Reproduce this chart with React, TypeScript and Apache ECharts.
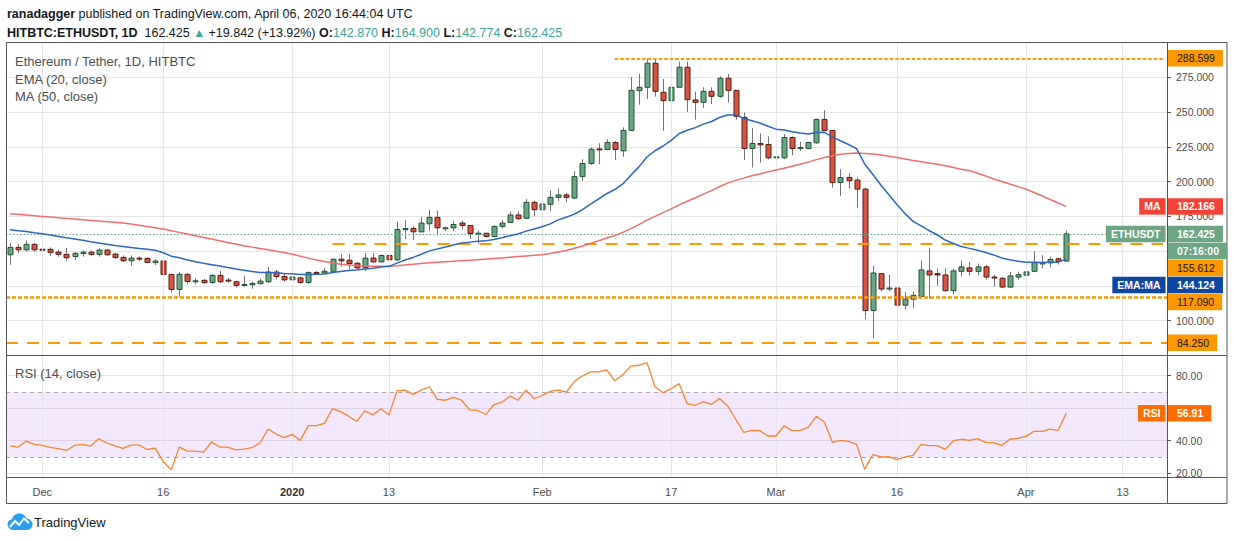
import React, { useEffect, useRef } from "react";
import * as echarts from "echarts";

// ---------------- data ----------------
const FIRST_DAY_UTC = Date.UTC(2019, 10, 27);
const SLOT_COUNT = 144; // Nov 27 2019 .. Apr 19 2020 (empty space after last candle)

const opens = [
  147.4, 152.7, 151.0, 154.9, 151.4, 151.3, 149.3, 147.7, 146.2, 148.4,
  149.3, 147.7, 150.8, 147.9, 145.5, 143.1, 145.0, 144.8, 141.9, 142.9,
  133.3, 122.5, 133.3, 128.2, 129.0, 127.5, 132.6, 129.2, 128.0, 125.4,
  125.8, 126.6, 128.0, 135.0, 131.8, 129.4, 130.8, 127.5, 134.6, 134.3,
  135.1, 144.2, 143.5, 141.3, 138.2, 145.0, 142.3, 146.9, 143.8, 165.4,
  166.3, 163.9, 169.7, 174.3, 166.6, 166.8, 170.2, 168.5, 162.7, 162.9,
  160.6, 167.8, 170.7, 176.0, 173.6, 185.1, 179.8, 183.7, 188.7, 190.4,
  188.2, 203.6, 213.0, 223.5, 223.1, 228.1, 222.1, 236.8, 265.4, 267.8,
  285.1, 264.2, 258.2, 267.8, 282.2, 258.7, 257.0, 264.9, 261.3, 274.3,
  265.6, 246.2, 223.8, 227.4, 226.7, 217.1, 217.1, 231.7, 223.8, 223.8,
  227.9, 244.7, 236.8, 199.3, 203.0, 201.1, 194.6, 107.3, 133.9, 122.8,
  123.5, 111.2, 115.5, 117.5, 135.8, 133.9, 132.9, 121.6, 135.5, 138.0,
  135.5, 138.7, 131.4, 130.5, 124.2, 131.4, 132.7, 135.5, 140.8, 141.6,
  144.5, 142.87,
];
const highs = [
  155.8, 155.1, 157.7, 155.8, 152.7, 152.7, 150.8, 152.2, 149.6, 150.5,
  150.5, 152.0, 151.5, 148.8, 147.0, 147.0, 146.2, 145.7, 144.1, 142.9,
  133.3, 135.0, 134.2, 130.6, 130.0, 133.5, 135.9, 130.8, 128.7, 132.3,
  128.0, 130.2, 138.6, 136.6, 134.2, 132.6, 131.5, 135.5, 135.7, 138.2,
  144.7, 147.8, 147.8, 142.3, 148.6, 148.6, 147.6, 147.6, 171.2, 172.4,
  168.0, 174.8, 179.6, 179.1, 167.5, 171.6, 171.9, 168.5, 164.7, 163.0,
  168.8, 172.4, 178.4, 178.6, 187.5, 186.1, 184.6, 193.5, 195.2, 191.8,
  207.5, 216.1, 224.5, 227.6, 230.5, 229.3, 239.0, 275.2, 277.4, 288.6,
  287.5, 273.8, 268.5, 286.3, 286.3, 264.7, 267.8, 267.8, 275.7, 277.4,
  265.6, 249.8, 238.5, 234.6, 232.5, 227.4, 234.1, 232.5, 228.6, 228.6,
  245.4, 251.4, 237.0, 208.9, 206.1, 203.0, 195.8, 139.6, 134.3, 133.1,
  124.2, 120.6, 121.1, 143.3, 152.4, 137.5, 137.7, 137.5, 143.3, 142.3,
  141.1, 140.1, 133.1, 131.2, 135.1, 135.3, 138.4, 150.0, 147.1, 146.1,
  145.4, 164.9,
];
const lows = [
  140.2, 148.6, 149.8, 149.6, 146.0, 146.7, 146.0, 143.1, 143.8, 146.0,
  146.7, 146.0, 146.7, 144.3, 142.1, 139.5, 142.9, 141.2, 140.0, 130.4,
  120.1, 117.09, 126.1, 126.1, 126.6, 126.6, 127.0, 127.3, 123.9, 124.4,
  123.0, 126.1, 127.3, 129.9, 128.0, 129.2, 126.5, 126.3, 133.5, 134.0,
  134.6, 138.9, 137.0, 136.8, 135.8, 141.8, 141.8, 143.0, 143.0, 158.7,
  157.9, 163.5, 164.7, 162.3, 164.4, 164.4, 165.9, 158.7, 155.5, 159.9,
  159.9, 166.3, 170.2, 172.8, 173.1, 175.0, 178.8, 178.8, 186.1, 185.1,
  187.5, 200.5, 212.0, 212.5, 222.6, 215.6, 217.8, 236.8, 255.3, 259.4,
  261.1, 236.5, 241.3, 267.8, 250.2, 244.5, 252.9, 255.8, 260.3, 257.0,
  244.5, 215.6, 210.1, 213.7, 216.1, 212.0, 216.1, 219.0, 222.0, 223.3,
  227.2, 236.3, 195.7, 189.7, 195.1, 181.3, 101.1, 87.3, 121.1, 121.1,
  100.6, 108.3, 109.0, 115.5, 115.8, 125.2, 120.8, 118.7, 131.9, 132.7,
  132.7, 129.5, 124.7, 123.3, 123.5, 129.5, 128.3, 134.8, 137.5, 138.4,
  140.4, 142.774,
];
const closes = [
  152.7, 151.0, 154.9, 151.0, 150.9, 149.1, 147.7, 145.3, 148.4, 149.3,
  147.7, 150.8, 147.4, 145.5, 143.1, 145.0, 144.3, 141.9, 142.9, 133.3,
  122.5, 133.3, 128.2, 128.7, 127.3, 132.6, 128.0, 128.5, 125.4, 126.1,
  126.8, 128.5, 135.0, 131.8, 129.4, 131.4, 127.5, 134.6, 134.2, 135.6,
  144.2, 143.0, 141.1, 138.0, 145.0, 142.3, 146.9, 143.8, 165.6, 166.3,
  163.9, 170.2, 174.3, 166.8, 166.8, 169.2, 168.5, 162.7, 162.9, 160.6,
  167.8, 170.2, 176.0, 173.3, 185.1, 179.8, 183.9, 188.7, 190.4, 188.7,
  203.6, 213.0, 223.3, 222.8, 228.1, 223.1, 236.8, 265.6, 267.8, 285.1,
  264.9, 258.2, 267.8, 282.2, 258.9, 257.0, 264.9, 261.3, 274.3, 265.6,
  246.9, 223.8, 227.4, 226.4, 217.1, 217.8, 231.7, 223.8, 224.5, 228.1,
  244.7, 236.8, 199.3, 202.9, 200.6, 194.6, 107.3, 134.3, 122.8, 123.5,
  111.2, 115.5, 118.2, 136.5, 132.9, 132.9, 121.6, 135.8, 138.7, 135.5,
  138.7, 131.4, 130.7, 124.2, 132.2, 133.1, 135.1, 141.8, 141.8, 144.0,
  142.583, 162.425,
];
const ema20 = [
  165.4, 164.7, 164.2, 163.3, 162.5, 161.6, 160.6, 159.6, 158.7, 157.8,
  156.8, 155.9, 154.9, 154.1, 153.4, 152.6, 152.0, 151.4, 150.6, 148.9,
  146.4, 145.2, 143.6, 142.4, 141.3, 140.3, 139.3, 138.3, 137.2, 136.3,
  135.4, 134.7, 134.6, 134.4, 134.0, 133.7, 133.2, 133.3, 133.4, 133.6,
  134.6, 135.4, 136.1, 136.4, 137.2, 137.7, 138.6, 139.1, 141.4, 143.6,
  145.5, 147.8, 150.2, 151.6, 153.0, 154.5, 155.8, 156.5, 157.1, 157.4,
  158.4, 159.6, 161.1, 162.3, 164.4, 165.9, 167.6, 169.6, 172.5, 174.4,
  176.6, 179.9, 183.8, 187.5, 191.3, 194.3, 198.3, 204.6, 210.6, 217.7,
  222.2, 225.6, 229.6, 234.6, 236.9, 238.8, 241.3, 243.2, 246.1, 247.9,
  247.8, 245.5, 243.8, 242.1, 239.8, 237.7, 237.1, 235.9, 234.9, 234.3,
  235.3, 235.5, 232.0, 229.4, 226.7, 223.7, 212.7, 205.3, 197.6, 190.5,
  183.5, 177.0, 171.4, 168.2, 164.7, 161.8, 158.0, 155.5, 153.4, 152.0,
  150.6, 149.0, 147.3, 145.1, 143.8, 142.8, 142.1, 142.0, 141.9, 142.1,
  142.1, 144.124,
];
const ma50 = [
  176.9, 176.5, 176.0, 175.5, 175.0, 174.5, 174.0, 173.5, 173.1, 172.6,
  172.1, 171.6, 171.2, 170.7, 170.2, 169.5, 168.7, 167.8, 166.9, 165.9,
  164.7, 163.5, 162.3, 161.1, 159.9, 158.7, 157.5, 156.3, 155.1, 153.9,
  152.9, 151.9, 151.0, 150.0, 149.1, 147.8, 146.4, 145.0, 143.7, 142.5,
  141.5, 140.6, 140.0, 139.5, 139.3, 139.2, 139.1, 139.2, 139.6, 140.1,
  140.6, 141.1, 141.6, 142.0, 142.4, 142.8, 143.2, 143.5, 143.9, 144.3,
  144.7, 145.1, 145.6, 146.1, 146.6, 147.0, 147.5, 148.4, 149.4, 150.5,
  152.1, 153.7, 155.6, 157.5, 159.5, 161.3, 163.5, 166.2, 169.1, 172.3,
  175.0, 177.7, 180.4, 183.3, 185.9, 188.4, 191.0, 193.5, 196.3, 198.9,
  200.9, 202.5, 204.2, 205.5, 207.0, 208.3, 209.6, 211.0, 212.5, 214.0,
  215.8, 217.4, 218.6, 219.6, 220.2, 220.6, 220.2, 219.8, 219.2, 218.3,
  217.4, 216.3, 215.2, 214.3, 213.3, 212.4, 211.4, 210.1, 208.9, 207.8,
  206.0, 204.0, 201.9, 200.1, 198.3, 196.4, 194.6, 192.2, 189.8, 187.1,
  184.6, 182.166,
];
const rsi14 = [
  36.9, 36.1, 39.8, 37.7, 37.1, 35.9, 35.1, 34.0, 37.1, 37.7,
  36.7, 41.2, 38.6, 36.9, 35.3, 37.3, 37.3, 34.6, 35.5, 27.2,
  22.1, 36.1, 33.6, 33.6, 33.0, 39.2, 36.1, 36.1, 34.4, 34.8,
  35.7, 38.6, 47.2, 44.1, 41.9, 43.9, 40.2, 49.3, 49.3, 50.7,
  59.8, 57.9, 55.1, 51.8, 58.4, 55.9, 59.6, 55.9, 70.7, 71.1,
  68.5, 71.1, 73.2, 65.4, 64.9, 66.6, 64.9, 59.0, 58.6, 56.1,
  62.1, 63.7, 67.4, 64.9, 71.1, 65.8, 67.8, 70.3, 71.1, 69.9,
  76.5, 79.8, 82.3, 82.3, 83.5, 76.9, 80.6, 85.9, 86.4, 88.0,
  73.2, 69.5, 72.0, 75.1, 62.6, 61.8, 64.0, 62.4, 65.9, 61.4,
  53.2, 45.2, 46.4, 46.2, 42.9, 42.9, 49.1, 46.2, 46.4, 48.2,
  55.0, 51.5, 39.0, 40.2, 39.6, 37.8, 22.4, 31.4, 30.0, 30.2,
  28.4, 30.0, 31.0, 37.8, 37.0, 37.0, 34.7, 40.0, 40.9, 40.2,
  41.3, 39.0, 38.8, 37.0, 40.9, 41.5, 42.7, 45.8, 45.8, 47.2,
  46.4, 56.91,
];

const tickDates = [
  "2019-12-01", "2019-12-16", "2020-01-01", "2020-01-13", "2020-02-01",
  "2020-02-17", "2020-03-01", "2020-03-16", "2020-04-01", "2020-04-13",
];
const tickLabels = ["Dec", "16", "2020", "13", "Feb", "17", "Mar", "16", "Apr", "13"];

const levelTop = 288.599;
const levelTopStart = "2020-02-10";
const levelRes = 155.612;
const levelResStart = "2020-01-06";
const levelSup = 117.09;
const levelLow = 84.25;
const countdownText = "07:16:00";

// ---------------- style ----------------
const FONT = '"Liberation Sans", Arial, Helvetica, sans-serif';
const INK = "#131722";
const GRAY_TEXT = "#4e4e4e";
const FRAME = "#555555";
const GRID = "#e6e6e6";
const ORANGE = "#ff9800";
const UP = "#6ba583";
const DOWN = "#d75442";
const UP_BORDER = "#225437";
const DOWN_BORDER = "#5b1a13";
const WICK = "#737375";
const EMA_BLUE = "#2f66c3";
const MA_RED = "#f26d6d";
const TEAL = "#3ca597";
const RSI_ORANGE = "#f7852f";

const L = 6;
const AXIS_X = 1167;
const R = 1227;
const TOP = 42.5;
const MAIN_B = 355.5;
const RSI_B = 477;
const BOTTOM = 503.5;

const categories = Array.from({ length: SLOT_COUNT }, (_, i) =>
  new Date(FIRST_DAY_UTC + i * 86400000).toISOString().slice(0, 10)
);

const cloudPath =
  "M6.5 17 C3 17 0.5 14.6 0.5 11.6 C0.5 8.9 2.4 6.7 5 6.2 C5.8 2.8 8.8 0.5 12.3 0.5 C15.6 0.5 18.5 2.6 19.5 5.6 C22.8 5.8 25.5 8.4 25.5 11.6 C25.5 14.6 23 17 19.8 17 Z";
echarts.graphic.registerShape("tvCloud", echarts.graphic.extendPath(cloudPath, {}) as any);

function buildOption(): any {
  const tickIdx = tickDates.map((d) => categories.indexOf(d));
  const labelOf: Record<string, string> = {};
  tickDates.forEach((d, k) => (labelOf[d] = tickLabels[k]));
  const vLines = tickDates.map((d) => ({ xAxis: d }));
  const candleData = opens.map((o, i) => [i, o, closes[i], lows[i], highs[i]]);
  const lastCat = categories[SLOT_COUNT - 1];
  const lastClose = closes[closes.length - 1];

  const gridMarkLine = {
    silent: true,
    symbol: ["none", "none"],
    label: { show: false },
    emphasis: { disabled: true },
    lineStyle: { color: GRID, width: 1, type: "solid" },
    data: vLines,
  };

  return {
    animation: false,
    backgroundColor: "#ffffff",
    textStyle: { fontFamily: FONT },
    grid: [
      { left: L, top: TOP, width: AXIS_X - L, height: MAIN_B - TOP },
      { left: L, top: MAIN_B, width: AXIS_X - L, height: RSI_B - MAIN_B },
    ],
    xAxis: [
      {
        type: "category",
        gridIndex: 0,
        data: categories,
        boundaryGap: true,
        axisLine: { show: false },
        axisTick: { show: false },
        axisLabel: { show: false },
        splitLine: { show: false },
      },
      {
        type: "category",
        gridIndex: 1,
        data: categories,
        boundaryGap: true,
        axisLine: { show: false },
        axisTick: { show: false },
        splitLine: { show: false },
        axisLabel: {
          show: true,
          interval: (index: number) => tickIdx.includes(index),
          formatter: (v: string) => (labelOf[v] === "2020" ? "{y|2020}" : labelOf[v] ?? ""),
          margin: 9,
          color: GRAY_TEXT,
          fontSize: 11,
          fontFamily: FONT,
          rich: { y: { fontWeight: "bold", color: "#333333", fontSize: 11, fontFamily: FONT } },
        },
      },
    ],
    yAxis: [
      {
        type: "value",
        gridIndex: 0,
        position: "right",
        min: 75,
        max: 300,
        interval: 25,
        axisLine: { show: false },
        axisTick: { show: true, length: 4, lineStyle: { color: FRAME } },
        axisLabel: {
          margin: 9,
          color: GRAY_TEXT,
          fontSize: 10.5,
          fontFamily: FONT,
          showMinLabel: false,
          showMaxLabel: false,
          formatter: (v: number) => v.toFixed(3),
        },
        splitLine: { show: true, showMinLine: false, showMaxLine: false, lineStyle: { color: GRID, width: 1 } },
      },
      {
        type: "value",
        gridIndex: 1,
        position: "right",
        min: 17.7,
        max: 92.4,
        splitNumber: 4,
        axisLine: { show: false },
        axisTick: { show: true, length: 4, lineStyle: { color: FRAME } },
        axisLabel: {
          margin: 9,
          color: GRAY_TEXT,
          fontSize: 10.5,
          fontFamily: FONT,
          showMinLabel: false,
          showMaxLabel: false,
          formatter: (v: number) => v.toFixed(2),
        },
        splitLine: { show: true, showMinLine: false, showMaxLine: false, lineStyle: { color: GRID, width: 1 } },
      },
    ],
    series: [
      {
        type: "line",
        name: "gridMain",
        xAxisIndex: 0,
        yAxisIndex: 0,
        data: [],
        silent: true,
        z: 1,
        markLine: gridMarkLine,
      },
      {
        type: "line",
        name: "gridRsi",
        xAxisIndex: 1,
        yAxisIndex: 1,
        data: [],
        silent: true,
        z: 1,
        markArea: {
          silent: true,
          itemStyle: { color: "rgba(140, 30, 230, 0.1)" },
          data: [[{ yAxis: 30 }, { yAxis: 70 }]],
        },
        markLine: {
          ...gridMarkLine,
          data: [
            ...vLines,
            { yAxis: 70, lineStyle: { color: "#a9a9a9", width: 1, type: [4, 4] } },
            { yAxis: 30, lineStyle: { color: "#a9a9a9", width: 1, type: [4, 4] } },
          ],
        },
      },
      {
        type: "custom",
        name: "ETHUSDT",
        xAxisIndex: 0,
        yAxisIndex: 0,
        z: 4,
        clip: false,
        silent: true,
        encode: { x: 0, y: [1, 2, 3, 4] },
        data: candleData,
        renderItem: (_params: any, api: any) => {
          const idx = api.value(0);
          const o = api.value(1);
          const c = api.value(2);
          const lo = api.value(3);
          const hi = api.value(4);
          const pO = api.coord([idx, o]);
          const pC = api.coord([idx, c]);
          const pL = api.coord([idx, lo]);
          const pH = api.coord([idx, hi]);
          const bw = Math.round(api.size([1, 0])[0] * 0.68);
          const up = c >= o;
          const top = Math.min(pO[1], pC[1]);
          const h = Math.max(Math.abs(pO[1] - pC[1]), 1);
          const x = Math.round(pO[0]) + 0.5;
          return {
            type: "group",
            children: [
              {
                type: "line",
                shape: { x1: x, y1: pH[1], x2: x, y2: pL[1] },
                style: { stroke: WICK, lineWidth: 1 },
              },
              {
                type: "rect",
                shape: { x: x - bw / 2, y: top, width: bw, height: h },
                style: {
                  fill: up ? UP : DOWN,
                  stroke: up ? UP_BORDER : DOWN_BORDER,
                  lineWidth: 1,
                },
              },
            ],
          };
        },
      },
      {
        type: "line",
        name: "MA (50, close)",
        xAxisIndex: 0,
        yAxisIndex: 0,
        data: ma50,
        showSymbol: false,
        silent: true,
        z: 5,
        lineStyle: { color: MA_RED, width: 1.5 },
        itemStyle: { color: MA_RED },
      },
      {
        type: "line",
        name: "EMA (20, close)",
        xAxisIndex: 0,
        yAxisIndex: 0,
        data: ema20,
        showSymbol: false,
        silent: true,
        z: 5,
        lineStyle: { color: EMA_BLUE, width: 1.5 },
        itemStyle: { color: EMA_BLUE },
      },
      {
        type: "line",
        name: "levels",
        xAxisIndex: 0,
        yAxisIndex: 0,
        data: [],
        silent: true,
        z: 6,
        markLine: {
          silent: true,
          symbol: ["none", "none"],
          label: { show: false },
          emphasis: { disabled: true },
          data: [
            [
              { coord: [levelTopStart, levelTop], lineStyle: { color: ORANGE, width: 2, type: [3.5, 2] } },
              { coord: [lastCat, levelTop] },
            ],
            [
              { coord: [levelResStart, levelRes], lineStyle: { color: ORANGE, width: 2, type: [12, 9] } },
              { coord: [lastCat, levelRes] },
            ],
            { yAxis: levelSup, lineStyle: { color: ORANGE, width: 2.5, type: [4, 2] } },
            { yAxis: levelLow, lineStyle: { color: ORANGE, width: 2, type: [12, 9] } },
            { yAxis: lastClose, lineStyle: { color: "#5fa57e", width: 1, type: [1.5, 2] } },
          ],
        },
      },
      {
        type: "line",
        name: "RSI (14, close)",
        xAxisIndex: 1,
        yAxisIndex: 1,
        data: rsi14,
        showSymbol: false,
        silent: true,
        clip: false,
        z: 5,
        lineStyle: { color: RSI_ORANGE, width: 1.3 },
        itemStyle: { color: RSI_ORANGE },
      },
    ],
  };
}

type Box = { y: number; text: string; bg: string; fg: string; bold?: boolean; tag?: string };

function computeBoxes(chart: any) {
  const y0 = (v: number) => chart.convertToPixel({ yAxisIndex: 0 }, v) as number;
  const y1 = (v: number) => chart.convertToPixel({ yAxisIndex: 1 }, v) as number;
  const last = closes.length - 1;
  const lastClose = closes[last];
  const mainBoxes: Box[] = [
    { y: y0(levelTop), text: levelTop.toFixed(3), bg: ORANGE, fg: INK },
    { y: y0(ma50[last]), text: ma50[last].toFixed(3), bg: "#f44336", fg: "#ffffff", bold: true, tag: "MA" },
    { y: y0(lastClose), text: lastClose.toFixed(3), bg: UP, fg: "#ffffff", bold: true, tag: "ETHUSDT" },
    { y: y0(lastClose) + 0.01, text: countdownText, bg: UP, fg: "#ffffff", bold: true },
    { y: y0(levelRes), text: levelRes.toFixed(3), bg: ORANGE, fg: INK },
    { y: y0(ema20[last]), text: ema20[last].toFixed(3), bg: "#0d47a1", fg: "#ffffff", bold: true, tag: "EMA:MA" },
    { y: y0(levelSup), text: levelSup.toFixed(3), bg: ORANGE, fg: INK },
    { y: y0(levelLow), text: levelLow.toFixed(3), bg: ORANGE, fg: INK },
  ].sort((a, b) => a.y - b.y);
  let prev = -Infinity;
  for (const b of mainBoxes) {
    b.y = Math.max(b.y, prev + 17);
    prev = b.y;
  }
  const rsiBoxes: Box[] = [
    { y: y1(rsi14[last]), text: rsi14[last].toFixed(2), bg: "#ff6d00", fg: "#ffffff", bold: true, tag: "RSI" },
  ];
  // axis tick labels that sit underneath a price label are hidden, like in the reference
  const covered = (y: number, boxes: Box[]) => boxes.some((b) => Math.abs(b.y - y) < 7);
  const mainFormatter = (v: number) => (covered(y0(v), mainBoxes) ? "" : v.toFixed(3));
  const rsiFormatter = (v: number) => (covered(y1(v), rsiBoxes) ? "" : v.toFixed(2));
  return { boxes: [...mainBoxes, ...rsiBoxes], mainFormatter, rsiFormatter };
}

function buildGraphic(boxes: Box[]): any[] {
  const last = closes.length - 1;
  const lastClose = closes[last];
  const prevClose = closes[last - 1];
  const change = lastClose - prevClose;
  const pct = (change / prevClose) * 100;

  const els: any[] = [];

  // header
  els.push({
    type: "text",
    z: 100,
    style: {
      x: 7,
      y: 14,
      text: "{b|ranadagger} published on TradingView.com, April 06, 2020 16:44:04 UTC",
      fill: INK,
      fontSize: 12.5,
      fontFamily: FONT,
      verticalAlign: "middle",
      rich: { b: { fontWeight: "bold", fontSize: 12.5, fontFamily: FONT, fill: INK } },
    },
  });
  const v = (n: number) => n.toFixed(3);
  els.push({
    type: "text",
    z: 100,
    style: {
      x: 7,
      y: 33,
      text:
        "{b|HITBTC:ETHUSDT, 1D}  " +
        v(lastClose) +
        " {g|▲} +" +
        v(change) +
        " (+" +
        pct.toFixed(2) +
        "%) {b|O:}{t|" +
        v(opens[last]) +
        "} {b|H:}{t|" +
        v(highs[last]) +
        "} {b|L:}{t|" +
        v(lows[last]) +
        "} {b|C:}{t|" +
        v(lastClose) +
        "}",
      fill: INK,
      fontSize: 12.5,
      fontFamily: FONT,
      verticalAlign: "middle",
      rich: {
        b: { fontWeight: "bold", fontSize: 12.5, fontFamily: FONT, fill: INK },
        t: { fontSize: 12.5, fontFamily: FONT, fill: TEAL },
        g: { fontSize: 12, fontFamily: FONT, fill: TEAL },
      },
    },
  });

  // legends
  const legend = (text: string, y: number) => ({
    type: "text",
    z: 100,
    style: { x: 15, y, text, fill: GRAY_TEXT, fontSize: 13, fontFamily: FONT, verticalAlign: "middle" },
  });
  els.push(legend("Ethereum / Tether, 1D, HITBTC", 61));
  els.push(legend("EMA (20, close)", 79));
  els.push(legend("MA (50, close)", 96));
  els.push(legend("RSI (14, close)", 373));

  // frame
  const line = (x1: number, y1: number, x2: number, y2: number) => ({
    type: "line",
    z: 90,
    silent: true,
    shape: { x1, y1, x2, y2 },
    style: { stroke: FRAME, lineWidth: 1 },
  });
  els.push({
    type: "rect",
    z: 90,
    silent: true,
    shape: { x: L + 0.5, y: TOP, width: R - L - 0.5, height: BOTTOM - TOP },
    style: { fill: "none", stroke: FRAME, lineWidth: 1 },
  });
  els.push(line(L, MAIN_B, R, MAIN_B));
  els.push(line(L, RSI_B + 0.5, R, RSI_B + 0.5));
  els.push(line(AXIS_X + 0.5, TOP, AXIS_X + 0.5, BOTTOM));

  for (const b of boxes) {
    els.push({
      type: "text",
      z: 110,
      silent: true,
      style: {
        x: AXIS_X + 1,
        y: b.y,
        text: b.text,
        fill: b.fg,
        backgroundColor: b.bg,
        padding: [2, 8, 2, 9],
        lineHeight: 12.5,
        fontSize: 10.5,
        fontFamily: FONT,
        fontWeight: b.bold ? "bold" : "normal",
        align: "left",
        verticalAlign: "middle",
      },
    });
    if (b.tag) {
      els.push({
        type: "text",
        z: 110,
        silent: true,
        style: {
          x: AXIS_X - 1.5,
          y: b.y,
          text: b.tag,
          fill: "#ffffff",
          backgroundColor: b.bg,
          padding: [2, 5, 2, 5],
          lineHeight: 12.5,
          fontSize: 10.5,
          fontFamily: FONT,
          fontWeight: "bold",
          align: "right",
          verticalAlign: "middle",
        },
      });
    }
  }

  // TradingView logo
  els.push({ type: "tvCloud", z: 100, x: 7, y: 513, style: { fill: "#2a9df4" } });
  els.push({
    type: "polyline",
    z: 101,
    shape: { points: [[10, 527], [15, 521], [19, 525], [24, 518.5], [29, 523]] },
    style: { stroke: "#ffffff", lineWidth: 2, fill: "none" },
  });
  els.push({
    type: "text",
    z: 100,
    style: { x: 34, y: 522, text: "TradingView", fill: INK, fontSize: 13, fontFamily: FONT, verticalAlign: "middle" },
  });

  return els;
}

export default function App() {
  const ref = useRef<HTMLDivElement>(null);
  useEffect(() => {
    if (!ref.current) return;
    const chart = echarts.init(ref.current, undefined, { renderer: "svg", width: 1234, height: 541 });
    chart.setOption(buildOption());
    const { boxes, mainFormatter, rsiFormatter } = computeBoxes(chart);
    chart.setOption({
      yAxis: [{ axisLabel: { formatter: mainFormatter } }, { axisLabel: { formatter: rsiFormatter } }],
      graphic: buildGraphic(boxes),
    });
    return () => {
      chart.dispose();
    };
  }, []);
  return (
    <div
      ref={ref}
      style={{ position: "absolute", left: 0, top: 0, width: 1234, height: 541, background: "#ffffff" }}
    />
  );
}
